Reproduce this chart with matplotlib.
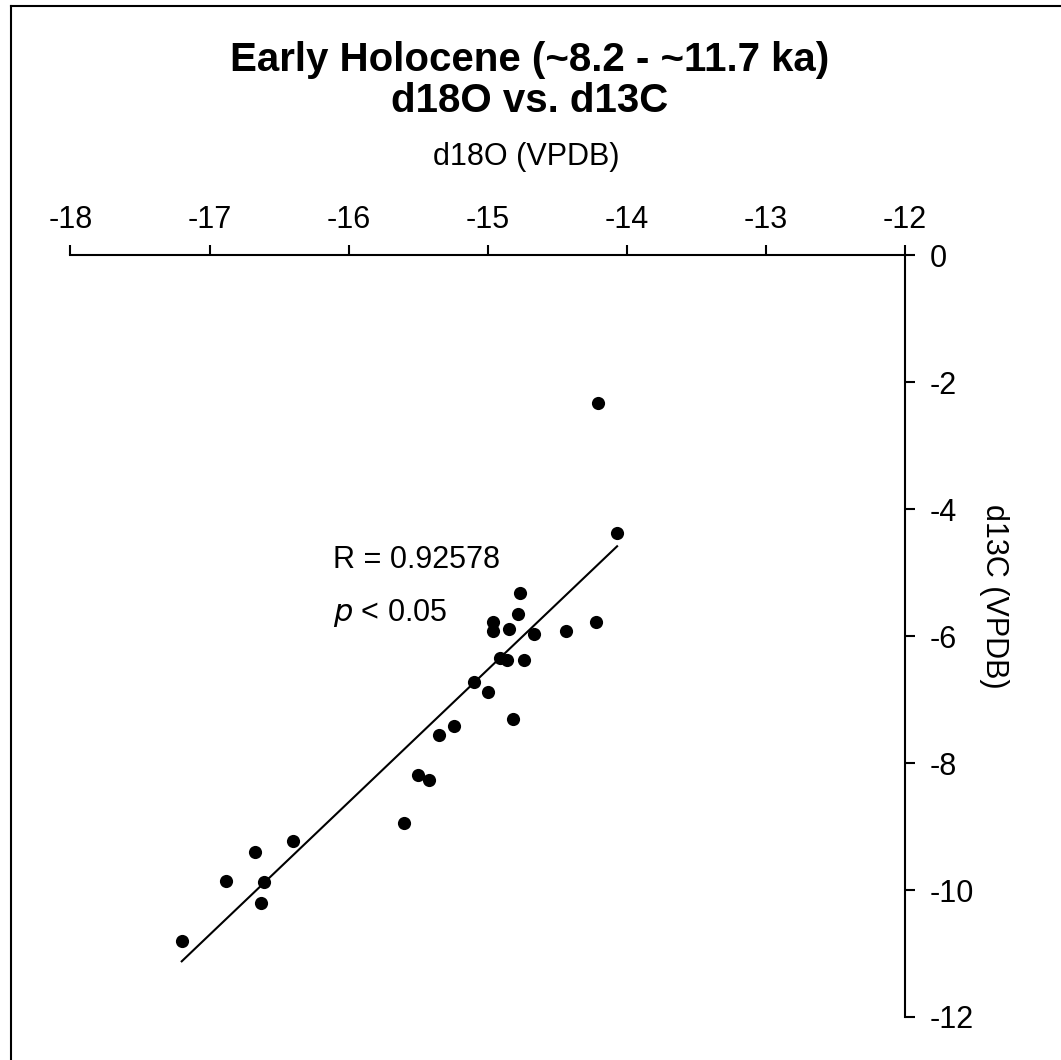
import numpy as np
import matplotlib
matplotlib.use("Agg")
import matplotlib.pyplot as plt
from matplotlib.lines import Line2D

plt.rcParams['font.family'] = ['Liberation Sans', 'DejaVu Sans']
plt.rcParams['axes.unicode_minus'] = False

# d18O / d13C values (VPDB)
d18o = [-14.21, -14.07, -14.77, -14.78, -14.96, -14.96, -14.85, -14.67, -14.44,
        -14.22, -14.91, -14.86, -14.74, -15.10, -15.00, -14.82, -15.24, -15.35,
        -15.50, -15.42, -15.60, -16.40, -16.67, -16.88, -16.61, -16.63, -17.20]
d13c = [-2.32, -4.38, -5.32, -5.65, -5.77, -5.92, -5.88, -5.96, -5.92,
        -5.78, -6.34, -6.38, -6.38, -6.72, -6.88, -7.30, -7.42, -7.55,
        -8.18, -8.27, -8.94, -9.22, -9.40, -9.86, -9.88, -10.21, -10.80]
x_ticks = [-18, -17, -16, -15, -14, -13, -12]
y_ticks = [0, -2, -4, -6, -8, -10, -12]

x = np.array(d18o)
y = np.array(d13c)
slope, icpt = np.polyfit(x, y, 1)
xl = np.array([x.min(), x.max()])

fig = plt.figure(figsize=(10.61, 10.60), dpi=100)
ax = fig.add_axes([0.0664, 0.0406, 0.853 - 0.0664, 0.759 - 0.0406])

ax.scatter(x, y, s=90, color='black', zorder=3, linewidths=0)
ax.plot(xl, slope * xl + icpt, color='black', lw=1.5)

ax.set_xlim(-18, -12)
ax.set_ylim(-12, 0)
ax.set_xticks(x_ticks)
ax.set_yticks(y_ticks)

for s in ['left', 'bottom']:
    ax.spines[s].set_visible(False)
for s in ['top', 'right']:
    ax.spines[s].set_linewidth(1.5)

ax.xaxis.tick_top()
ax.yaxis.tick_right()
ax.tick_params(axis='x', direction='out', length=7, width=1.5, labelsize=22, pad=8)
ax.tick_params(axis='y', direction='out', length=7, width=1.5, labelsize=22, pad=11)

ax.set_xlabel('d18O (VPDB)', fontsize=22)
ax.xaxis.set_label_position('top')
ax.xaxis.set_label_coords(0.546, 1.119)
ax.set_ylabel('d13C (VPDB)', fontsize=22, rotation=270, va='center')
ax.yaxis.set_label_position('right')
ax.yaxis.set_label_coords(1.125, 0.552)

ax.text(-16.11, -4.80, 'R = 0.92578', fontsize=22, va='center', ha='left')
ax.text(-16.11, -5.64, r'$\it{p}$ < 0.05', fontsize=22, va='center', ha='left')

fig.text(530 / 1061, 1 - 60 / 1060, 'Early Holocene (~8.2 - ~11.7 ka)',
         fontsize=29, fontweight='bold', ha='center', va='center')
fig.text(530 / 1061, 1 - 101 / 1060, 'd18O vs. d13C',
         fontsize=29, fontweight='bold', ha='center', va='center')

# border lines on left and top of the figure
fig.add_artist(Line2D([11 / 1061, 11 / 1061], [0, 1 - 5.5 / 1060],
                      transform=fig.transFigure, color='black', lw=1.5))
fig.add_artist(Line2D([11 / 1061, 1], [1 - 5.5 / 1060, 1 - 5.5 / 1060],
                      transform=fig.transFigure, color='black', lw=1.5))

fig.savefig('out.png', dpi=100)
